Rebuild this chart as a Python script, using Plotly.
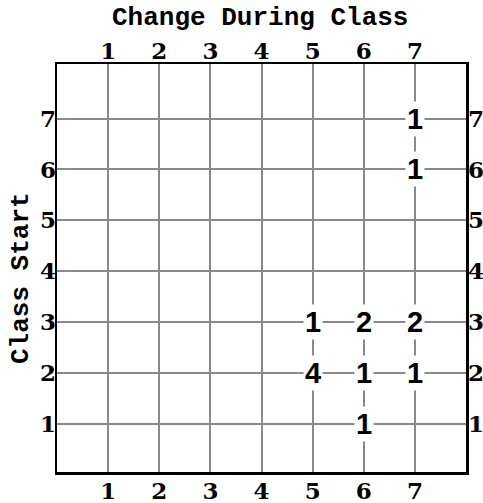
import plotly.graph_objects as go

# Data
change_vals = [7, 7, 5, 6, 7, 5, 6, 7, 6]   # x: Change During Class
start_vals = [7, 6, 3, 3, 3, 2, 2, 2, 1]    # y: Class Start
counts = [1, 1, 1, 2, 2, 4, 1, 1, 1]
tick_vals = [1, 2, 3, 4, 5, 6, 7]
tick_text = ["1", "2", "3", "4", "5", "6", "7"]

W, H = 483, 503
ML, MR, MT, MB = 57, 17, 64, 31

tick_font = dict(family="DejaVu Serif", size=23, color="black", weight="bold")
title_font = dict(family="Liberation Mono", size=26, color="black", weight="bold")

fig = go.Figure()
fig.add_trace(go.Scatter(x=change_vals, y=start_vals, mode="markers",
                         marker=dict(opacity=0), hoverinfo="skip", showlegend=False))
fig.add_trace(go.Scatter(x=change_vals, y=start_vals, mode="markers", xaxis="x2", yaxis="y2",
                         marker=dict(opacity=0), hoverinfo="skip", showlegend=False))

for xv, yv, c in zip(change_vals, start_vals, counts):
    fig.add_annotation(x=xv, y=yv, xref="x", yref="y", text=str(c), showarrow=False,
                       font=dict(family="Liberation Sans", size=29, color="black", weight="bold"),
                       bgcolor="white", borderpad=1)

xr = [0, 8]
yr = [0.06, 8.07]
grid = dict(showgrid=True, gridcolor="#8a8a8a", gridwidth=2, zeroline=False)
common = dict(tickvals=tick_vals, ticktext=tick_text, ticks="", ticklen=0, tickfont=tick_font,
              automargin=False, fixedrange=True)

fig.update_layout(
    width=W, height=H,
    margin=dict(l=ML, r=MR, t=MT, b=MB),
    plot_bgcolor="white", paper_bgcolor="white",
    showlegend=False,
    xaxis=dict(range=xr, showline=True, linecolor="black", linewidth=2.5, mirror=True,
               ticklabelstandoff=-3, **grid, **common),
    yaxis=dict(range=yr, showline=True, linecolor="black", linewidth=2.5, mirror=True,
               ticklabelstandoff=-6, **grid, **common),
    xaxis2=dict(range=xr, overlaying="x", side="top", showgrid=False, zeroline=False,
                showline=False, ticklabelstandoff=-1, **common),
    yaxis2=dict(range=yr, overlaying="y", side="right", showgrid=False, zeroline=False,
                showline=False, ticklabelstandoff=1, **common),
)

fig.add_annotation(text="Change During Class", xref="paper", yref="paper", x=0.5, y=1,
                   yshift=46, xshift=-2, showarrow=False, font=title_font, yanchor="middle")
fig.add_annotation(text="Class Start", xref="paper", yref="paper", x=0, y=0.5, xshift=-36,
                   yshift=-10, textangle=-90, showarrow=False, font=title_font, xanchor="center")

fig.write_html("out.html", post_script="document.body.style.margin='0';",
               config={"displayModeBar": False, "staticPlot": True})
